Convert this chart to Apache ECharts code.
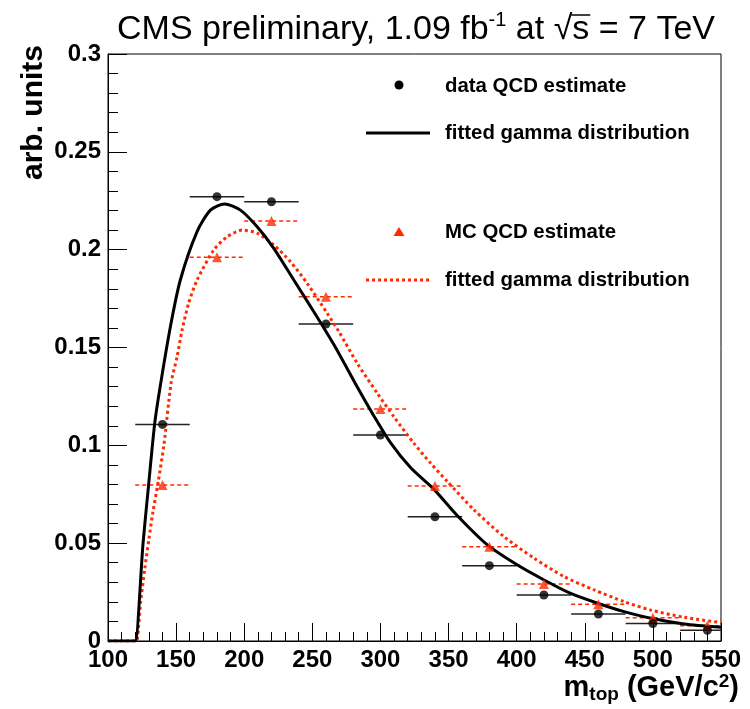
<!DOCTYPE html>
<html>
<head>
<meta charset="utf-8">
<script src="https://cdn.jsdelivr.net/npm/echarts@6/dist/echarts.min.js"></script>
<style>
  html, body { margin: 0; padding: 0; background: #fff; }
  #chart { width: 750px; height: 709px; }
</style>
</head>
<body>
<div id="chart"></div>
<script>
// Bin centres of the top-mass histogram (GeV/c^2), each bin 40 wide
const binCenters = [140, 180, 220, 260, 300, 340, 380, 420, 460, 500, 540];
const binHalfWidth = 20;

// QCD shape estimated from data (arb. units)
const dataQCD = [0.1107, 0.2271, 0.2245, 0.1620, 0.1053, 0.0635, 0.0385, 0.0235, 0.0138, 0.0089, 0.0055];
// QCD shape estimated from simulation (arb. units)
const mcQCD = [0.0797, 0.1961, 0.2146, 0.1760, 0.1186, 0.0792, 0.0482, 0.0291, 0.0188, 0.0119, 0.0078];

// Fitted gamma distribution to the data estimate
const dataFitX = [100, 119, 120.1, 125.7, 129.8, 134.2, 137.9, 145.8, 153.1, 165.4, 175.2, 185.5, 197.2, 209.5, 221.7,
                  236.4, 251.1, 265.8, 283.0, 295.2, 307.5, 322.2, 339.3, 356.5, 378.5, 400.6, 420.1, 439.7,
                  459.4, 478.9, 498.5, 523.0, 550];
const dataFitY = [0, 0, 0, 0.0497, 0.0797, 0.1107, 0.1283, 0.1606, 0.1845, 0.2092, 0.2202, 0.2233, 0.2202, 0.2117, 0.2007,
                  0.1845, 0.1683, 0.1515, 0.1298, 0.1150, 0.1012, 0.0885, 0.0775, 0.0640, 0.0491, 0.0388, 0.0312, 0.0243,
                  0.0193, 0.0150, 0.0116, 0.0087, 0.0070];

// Fitted gamma distribution to the simulation estimate
const mcFitX = [100, 120, 121, 124, 127, 130, 133, 137, 141, 146.3, 150.7, 154.4, 159.2, 165.4, 177.6, 187.5, 198.5, 209.5,
                221.7, 234.0, 246.2, 260.9, 269.5, 283.0, 297.7, 309.9, 324.6, 336.9, 349.1, 368.7, 390.7, 412.8,
                434.8, 456.9, 478.9, 498.5, 523.0, 550];
const mcFitY = [0, 0, 0, 0.020, 0.037, 0.052, 0.066, 0.082, 0.100, 0.1317, 0.1453, 0.1589, 0.1726, 0.1845, 0.1998, 0.2066,
                0.2100, 0.2084, 0.2024, 0.1938, 0.1828, 0.1675, 0.1581, 0.1419, 0.1266, 0.1146, 0.1010, 0.0908, 0.0815,
                0.0670, 0.0533, 0.0423, 0.0329, 0.0261, 0.0201, 0.0158, 0.0121, 0.0094];

const xRange = [100, 550];
const yRange = [0, 0.3];

const RED = '#ff2a00';
const FONT = '"Liberation Sans", Arial, Helvetica, sans-serif';

const zip = (xs, ys) => xs.map((x, i) => [x, ys[i]]);

// Text measurement for laying out the title pieces
const measureCtx = document.createElement('canvas').getContext('2d');
function textWidth(str, font) {
  measureCtx.font = font;
  return measureCtx.measureText(str).width;
}

function errorBarSeries(values, color, dash, z) {
  return {
    type: 'custom',
    z: z,
    clip: true,
    silent: true,
    data: zip(binCenters, values),
    renderItem: function (params, api) {
      const x = api.value(0), y = api.value(1);
      const a = api.coord([x - binHalfWidth, y]);
      const b = api.coord([x + binHalfWidth, y]);
      return {
        type: 'line',
        shape: { x1: a[0], y1: a[1], x2: b[0], y2: b[1] },
        style: { stroke: color, lineWidth: 1.5, lineDash: dash }
      };
    }
  };
}

// Title built from pieces so the superscript and the root sign sit right
const titleFont = '34px ' + FONT;
const titleSmall = '20px ' + FONT;
const titleMid = 30;
const titleParts = [
  { t: 'CMS preliminary, 1.09 fb', f: titleFont, dy: 0 },
  { t: '-1', f: titleSmall, dy: -10 },
  { t: ' at ', f: titleFont, dy: 0 },
  { t: '\u221A', f: titleFont, dy: 0 },
  { t: 's', f: titleFont, dy: 0, over: true },
  { t: ' = 7 TeV', f: titleFont, dy: 0 }
];
const titleGraphics = [];
let tx = 117;
titleParts.forEach(p => {
  const w = textWidth(p.t, p.f);
  titleGraphics.push({
    type: 'text', x: tx, y: titleMid + p.dy,
    style: { text: p.t, font: p.f, fill: '#000', verticalAlign: 'middle', align: 'left' }
  });
  if (p.over) {
    titleGraphics.push({
      type: 'line',
      shape: { x1: tx - 1, y1: titleMid - 15, x2: tx + w + 1, y2: titleMid - 15 },
      style: { stroke: '#000', lineWidth: 1.5 }
    });
  }
  tx += w;
});

const legendFont = 'bold 20.4px ' + FONT;
const legendGraphics = [
  { type: 'circle', shape: { cx: 399, cy: 85, r: 4.5 }, style: { fill: '#000' } },
  { type: 'text', x: 445, y: 86, style: { text: 'data QCD estimate', font: legendFont, fill: '#000', verticalAlign: 'middle' } },
  { type: 'line', shape: { x1: 366, y1: 133, x2: 430, y2: 133 }, style: { stroke: '#000', lineWidth: 3 } },
  { type: 'text', x: 445, y: 133, style: { text: 'fitted gamma distribution', font: legendFont, fill: '#000', verticalAlign: 'middle' } },
  { type: 'polygon', shape: { points: [[399, 227], [404.5, 236], [393.5, 236]] }, style: { fill: RED } },
  { type: 'text', x: 445, y: 232, style: { text: 'MC QCD estimate', font: legendFont, fill: '#000', verticalAlign: 'middle' } },
  { type: 'line', shape: { x1: 366, y1: 280, x2: 430, y2: 280 }, style: { stroke: RED, lineWidth: 3, lineDash: [3, 3] } },
  { type: 'text', x: 445, y: 280, style: { text: 'fitted gamma distribution', font: legendFont, fill: '#000', verticalAlign: 'middle' } }
];

const axisTitleGraphics = [
  {
    type: 'text', x: 34, y: 45, rotation: Math.PI / 2,
    style: { text: 'arb. units', font: 'bold 30px ' + FONT, fill: '#000', align: 'right', verticalAlign: 'middle' }
  },
  {
    type: 'text', x: 739, y: 688,
    style: {
      text: '{m|m}{sub|top}{m| (GeV/c}{sup|2}{m|)}',
      align: 'right', verticalAlign: 'middle',
      rich: {
        m: { font: 'bold 29px ' + FONT, fill: '#000', lineHeight: 32, verticalAlign: 'middle' },
        sub: { font: 'bold 19px ' + FONT, fill: '#000', lineHeight: 18, verticalAlign: 'bottom' },
        sup: { font: 'bold 19px ' + FONT, fill: '#000', lineHeight: 18, verticalAlign: 'top' }
      }
    }
  }
];

const axisLabelStyle = { fontFamily: FONT, fontWeight: 'bold', fontSize: 24, color: '#000' };

const chart = echarts.init(document.getElementById('chart'), null, { renderer: 'canvas' });
chart.setOption({
  animation: false,
  backgroundColor: '#fff',
  grid: { left: 108, right: 29, top: 54, bottom: 68, show: true, borderColor: '#000', borderWidth: 1, backgroundColor: 'transparent' },
  xAxis: {
    type: 'value', min: xRange[0], max: xRange[1], interval: 50,
    axisLine: { lineStyle: { color: '#000', width: 1 } },
    axisTick: { inside: true, length: 18, lineStyle: { color: '#000', width: 1 } },
    minorTick: { show: true, splitNumber: 5, length: 9, lineStyle: { color: '#000', width: 1 } },
    splitLine: { show: false },
    axisLabel: Object.assign({ margin: 7 }, axisLabelStyle)
  },
  yAxis: {
    type: 'value', min: yRange[0], max: yRange[1], interval: 0.05,
    axisLine: { lineStyle: { color: '#000', width: 1 } },
    axisTick: { inside: true, length: 19, lineStyle: { color: '#000', width: 1 } },
    minorTick: { show: true, splitNumber: 5, length: 10, lineStyle: { color: '#000', width: 1 } },
    splitLine: { show: false },
    axisLabel: Object.assign({ margin: 7 }, axisLabelStyle)
  },
  graphic: titleGraphics.concat(legendGraphics, axisTitleGraphics),
  series: [
    errorBarSeries(dataQCD, '#222', null, 2),
    errorBarSeries(mcQCD, RED, [4, 3], 2),
    {
      name: 'MC fit', type: 'line', z: 3, data: zip(mcFitX, mcFitY),
      symbol: 'none', smooth: 0.25,
      lineStyle: { color: RED, width: 3, type: [3, 3] }
    },
    {
      name: 'data fit', type: 'line', z: 4, data: zip(dataFitX, dataFitY),
      symbol: 'none', smooth: 0.25,
      lineStyle: { color: '#000', width: 3 }
    },
    {
      name: 'MC QCD estimate', type: 'scatter', z: 5, data: zip(binCenters, mcQCD),
      symbol: 'triangle', symbolSize: 10, itemStyle: { color: RED }
    },
    {
      name: 'data QCD estimate', type: 'scatter', z: 6, data: zip(binCenters, dataQCD),
      symbol: 'circle', symbolSize: 9, itemStyle: { color: '#000' }
    }
  ]
});
</script>
</body>
</html>
